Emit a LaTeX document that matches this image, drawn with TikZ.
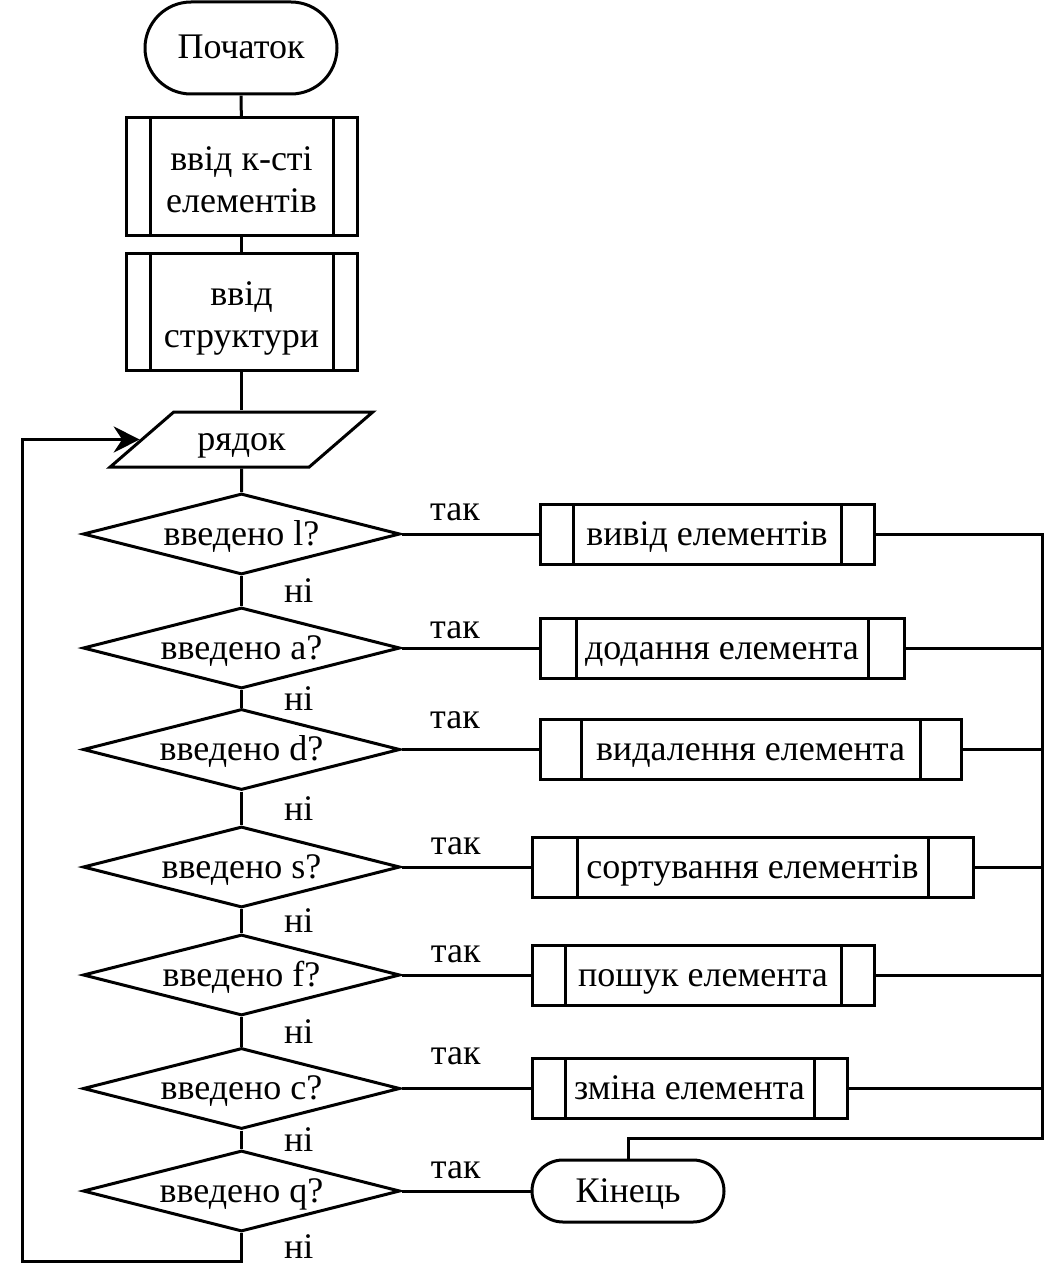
\documentclass[tikz,border=0pt]{standalone}
\usepackage{fontspec}
\setmainfont{Liberation Serif}
\usetikzlibrary{shapes.geometric,shapes.misc,arrows.meta}
\tikzset{
  one/.style={text height=30pt,text depth=8pt},
  term/.style={draw,rounded rectangle,inner sep=0pt,one},
  subr/.style={draw,rectangle,minimum height=60,inner sep=0pt,
    path picture={\draw ([xshift=#1]path picture bounding box.north west)--([xshift=#1]path picture bounding box.south west)
      ([xshift=-#1]path picture bounding box.north east)--([xshift=-#1]path picture bounding box.south east);}},
  act/.style={subr=#1,one},
  ask/.style={draw,diamond,minimum width=317,minimum height=81,inner sep=0pt,aspect=3.9,one},
  lbl/.style={inner sep=0pt},
}
\newcommand{\topstrut}{\rule{0pt}{38pt}}
\newcommand{\botstrut}{\rule[-9pt]{0pt}{9pt}}
\begin{document}
\begin{tikzpicture}[x=1pt,y=-1pt,line width=3pt,font=\fontsize{36}{42}\selectfont]
\useasboundingbox (0,0) rectangle (1053,1287);
\node[term,minimum width=192,minimum height=92] (start) at (241,48) {Початок};
\node[subr=24,minimum width=231,minimum height=117,align=center] (count) at (241.5,176.5) {\topstrut ввід к-сті\\елементів\botstrut};
\node[subr=24,minimum width=231,minimum height=117,align=center] (struct) at (241.5,311.5) {\topstrut ввід\\структури\botstrut};
\node[draw,trapezium,trapezium left angle=42.5,trapezium right angle=137.5,trapezium stretches=true,
  minimum width=263,minimum height=55,inner sep=0pt,one] (inp) at (241.5,439.5) {рядок};
% choices
\node[ask] (ql) at (241.5,534) {введено l?};
\node[ask] (qa) at (241.5,648) {введено a?};
\node[ask] (qd) at (241.5,749.5) {введено d?};
\node[ask] (qs) at (241.5,867) {введено s?};
\node[ask] (qf) at (241.5,975) {введено f?};
\node[ask] (qc) at (241.5,1088.5) {введено c?};
\node[ask] (qq) at (241.5,1191) {введено q?};
% actions
\node[act=33,minimum width=334] (show) at (707,534) {вивід елементів};
\node[act=36,minimum width=364] (add) at (722,648) {додання елемента};
\node[act=41,minimum width=421] (del) at (750.5,749.5) {видалення елемента};
\node[act=45,minimum width=441] (sort) at (752.5,867) {сортування елементів};
\node[act=33,minimum width=342] (find) at (703,975) {пошук елемента};
\node[act=33,minimum width=315] (edit) at (689.5,1088.5) {зміна елемента};
\node[term,minimum width=192,minimum height=62] (stop) at (628,1191) {Кінець};
\coordinate (rt) at (1042,534);
\coordinate (rb) at (1042,1138);
\coordinate (lb) at (22,1261);
% flow
\draw (start)--(count);
\draw (count)--(struct);
\draw (struct)--(inp);
\draw (inp)--(ql);
\draw (ql)--node[lbl,right=41pt]{ні}(qa);
\draw (qa)--node[lbl,right=41pt]{ні}(qd);
\draw (qd)--node[lbl,right=41pt]{ні}(qs);
\draw (qs)--node[lbl,right=41pt]{ні}(qf);
\draw (qf)--node[lbl,right=41pt]{ні}(qc);
\draw (qc)--node[lbl,right=41pt]{ні}(qq);
\draw (ql.east)--node[lbl,pos=.39,above=12pt]{так}(show.west);
\draw (qa.east)--node[lbl,pos=.39,above=8pt]{так}(add.west);
\draw (qd.east)--node[lbl,pos=.39,above=19pt]{так}(del.west);
\draw (qs.east)--node[lbl,pos=.42,above=11pt]{так}(sort.west);
\draw (qf.east)--node[lbl,pos=.42,above=11pt]{так}(find.west);
\draw (qc.east)--node[lbl,pos=.42,above=22pt]{так}(edit.west);
\draw (qq.east)--node[lbl,pos=.42,above=11pt]{так}(stop.west);
\draw (show.east)--(rt)--(rb)-|(stop.north);
\draw (add.east)--(add.east-|rt);
\draw (del.east)--(del.east-|rt);
\draw (sort.east)--(sort.east-|rt);
\draw (find.east)--(find.east-|rt);
\draw (edit.east)--(edit.east-|rt);
\draw[-{Stealth[length=26pt,width=26pt]}] (qq.south)|-node[lbl,pos=.25,right=41pt]{ні}(lb)|-(inp.left side);
\end{tikzpicture}
\end{document}
